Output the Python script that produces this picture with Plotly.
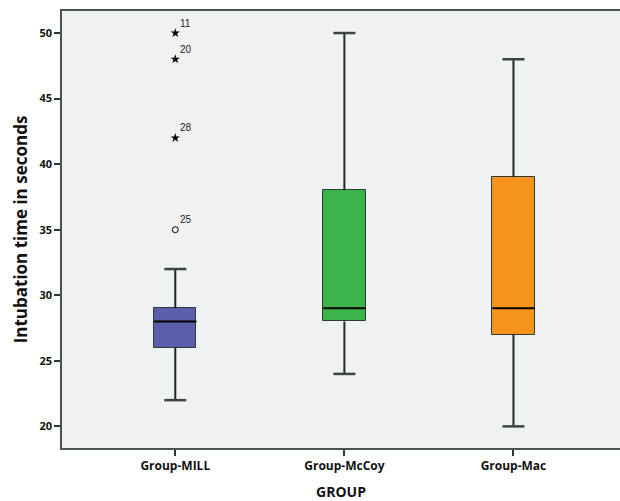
import plotly.graph_objects as go

groups = ["Group-MILL", "Group-McCoy", "Group-Mac"]
lower_whisker = [22, 24, 20]
q1 = [26, 28, 27]
median = [28, 29, 29]
q3 = [29, 38, 39]
upper_whisker = [32, 50, 48]
colors = ["#5A5EAB", "#3BB54A", "#F7941D"]

# outliers for Group-MILL
out_group = [0, 0, 0, 0]
out_values = [50, 48, 42, 35]
out_labels = ["11", "20", "28", "25"]
out_extreme = [True, True, True, False]

xs = list(range(len(groups)))
box_w = 0.25
cap_w = 0.065

fig = go.Figure()

# boxes
fig.add_trace(go.Bar(
    x=xs, base=q1, y=[b - a for a, b in zip(q1, q3)],
    width=box_w, marker=dict(color=colors, line=dict(color="#2d3a35", width=1)),
    showlegend=False, hoverinfo="skip"))

lc = "#1f2a28"
for i in xs:
    fig.add_trace(go.Scatter(x=[i, i, None, i, i], y=[q3[i], upper_whisker[i], None, lower_whisker[i], q1[i]],
                             mode="lines", line=dict(color=lc, width=2), showlegend=False, hoverinfo="skip"))
    fig.add_trace(go.Scatter(x=[i - cap_w, i + cap_w, None, i - cap_w, i + cap_w],
                             y=[upper_whisker[i], upper_whisker[i], None, lower_whisker[i], lower_whisker[i]],
                             mode="lines", line=dict(color="#3a4543", width=2.5), showlegend=False, hoverinfo="skip"))
    fig.add_trace(go.Scatter(x=[i - box_w / 2, i + box_w / 2], y=[median[i], median[i]],
                             mode="lines", line=dict(color="#000000", width=2), showlegend=False, hoverinfo="skip"))

sx = [xs[g] for g, e in zip(out_group, out_extreme) if e]
sy = [v for v, e in zip(out_values, out_extreme) if e]
fig.add_trace(go.Scatter(x=sx, y=sy, mode="markers", marker=dict(symbol="star", size=7, color="black"),
                         showlegend=False, hoverinfo="skip"))
cx = [xs[g] for g, e in zip(out_group, out_extreme) if not e]
cy = [v for v, e in zip(out_values, out_extreme) if not e]
fig.add_trace(go.Scatter(x=cx, y=cy, mode="markers",
                         marker=dict(symbol="circle-open", size=6, color="black", line=dict(width=1)),
                         showlegend=False, hoverinfo="skip"))
for g, v, t in zip(out_group, out_values, out_labels):
    fig.add_annotation(x=xs[g], y=v, text=t, showarrow=False, xanchor="left", yanchor="middle",
                       xshift=3, yshift=10, font=dict(size=10, color="#222222", family="Liberation Sans"))

fig.update_layout(
    width=620, height=501,
    margin=dict(l=62, r=0, t=11, b=53, autoexpand=False),
    paper_bgcolor="white", plot_bgcolor="#F0F1F3",
    font=dict(family="Open Sans", color="#111"),
    bargap=0,
)
fig.update_xaxes(
    range=[-0.67, 2.63], tickvals=xs, ticktext=["<b>%s</b>" % g for g in groups],
    tickfont=dict(size=12), ticks="outside", ticklen=6, tickcolor="#333", tickwidth=1.5,
    showline=True, linecolor="#4a5553", linewidth=1.5, mirror=True, showgrid=False, zeroline=False,
    automargin=False,
    title=dict(text="<b>GROUP</b>", font=dict(size=14), standoff=14),
)
fig.update_yaxes(
    range=[18.35, 51.68], tickvals=[20, 25, 30, 35, 40, 45, 50],
    ticktext=["<b>%d</b>" % v for v in [20, 25, 30, 35, 40, 45, 50]],
    tickfont=dict(size=11), ticks="outside", ticklen=6, tickcolor="#333", tickwidth=1.5,
    showline=True, linecolor="#4a5553", linewidth=1.5, showgrid=False, zeroline=False,
    automargin=False,
    title=dict(text="<b>Intubation time in seconds</b>", font=dict(size=17), standoff=8),
)

fig.write_html("out.html", config={"displayModeBar": False},
               post_script="document.body.style.margin='0';document.body.style.overflow='hidden';")
